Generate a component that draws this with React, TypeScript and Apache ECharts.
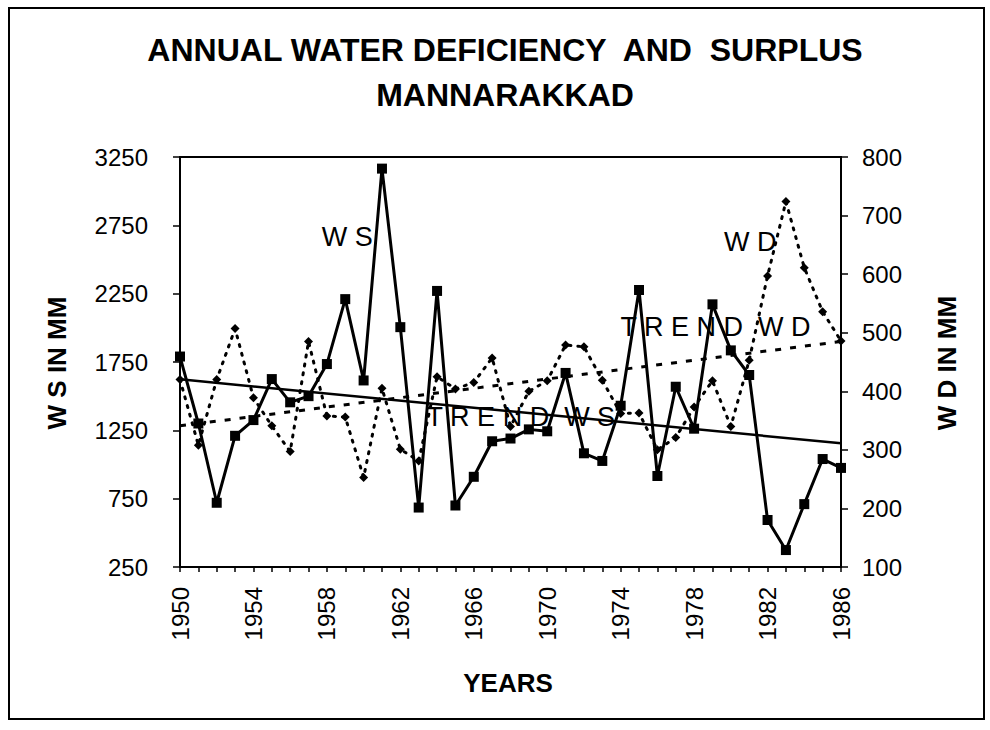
import React, { useEffect, useRef } from "react";
import * as echarts from "echarts";

const years = [
  "1950", "1951", "1952", "1953", "1954", "1955", "1956", "1957", "1958", "1959",
  "1960", "1961", "1962", "1963", "1964", "1965", "1966", "1967", "1968", "1969",
  "1970", "1971", "1972", "1973", "1974", "1975", "1976", "1977", "1978", "1979",
  "1980", "1981", "1982", "1983", "1984", "1985", "1986",
];

// Water surplus (mm), left axis
const wsValues = [
  1790, 1300, 720, 1210, 1325, 1625, 1455, 1500, 1735, 2210,
  1615, 3165, 2005, 685, 2270, 700, 910, 1170, 1190, 1257,
  1243, 1670, 1082, 1026, 1430, 2277, 916, 1569, 1262, 2172,
  1835, 1655, 594, 374, 710, 1040, 975,
];

// Water deficiency (mm), right axis
const wdValues = [
  420, 308, 420, 507, 389, 341, 297, 485, 358, 356,
  253, 405, 301, 281, 425, 404, 415, 457, 340, 400,
  418, 479, 476, 419, 362, 363, 300, 321, 373, 418,
  340, 453, 597, 724, 611, 536, 486,
];

// Trend line end values (1950, 1986)
const trendWSEnds = [1623, 1155];
const trendWDEnds = [341, 485];

const leftTicks = { min: 250, max: 3250, interval: 500 };
const rightTicks = { min: 100, max: 800, interval: 100 };

const FONT = '"Liberation Sans", Arial, Helvetica, sans-serif';

function endsToSeries(ends: number[]) {
  const last = years.length - 1;
  return years.map((_, i) => (i === 0 ? ends[0] : i === last ? ends[1] : null));
}

export default function App() {
  const ref = useRef<HTMLDivElement>(null);

  useEffect(() => {
    if (!ref.current) return;
    const chart = echarts.init(ref.current, null, { renderer: "svg" });

    const annotLabel = {
      show: true,
      position: "inside",
      formatter: "{b}",
      fontSize: 27,
      color: "#000",
      fontFamily: FONT,
    };

    const plain = (v: number) => String(v);

    const option: any = {
      animation: false,
      backgroundColor: "#ffffff",
      grid: {
        left: 180,
        top: 157,
        width: 661,
        height: 410,
        show: true,
        borderColor: "#000",
        borderWidth: 2,
        backgroundColor: "transparent",
      },
      xAxis: {
        type: "category",
        data: years,
        boundaryGap: false,
        axisLine: { show: true, lineStyle: { color: "#000", width: 2 } },
        axisTick: { show: true, interval: 0, length: 5, lineStyle: { color: "#000", width: 1.5 } },
        axisLabel: {
          interval: 3,
          rotate: 90,
          fontSize: 24,
          color: "#000",
          fontFamily: FONT,
          margin: 20,
        },
        splitLine: { show: false },
      },
      yAxis: [
        {
          type: "value",
          position: "left",
          min: leftTicks.min,
          max: leftTicks.max,
          interval: leftTicks.interval,
          axisLine: { show: true, lineStyle: { color: "#000", width: 2 } },
          axisTick: { show: true, length: 7, lineStyle: { color: "#000", width: 1.5 } },
          axisLabel: { fontSize: 24, color: "#000", fontFamily: FONT, margin: 32, formatter: plain },
          splitLine: { show: false },
        },
        {
          type: "value",
          position: "right",
          min: rightTicks.min,
          max: rightTicks.max,
          interval: rightTicks.interval,
          axisLine: { show: true, lineStyle: { color: "#000", width: 2 } },
          axisTick: { show: true, length: 7, lineStyle: { color: "#000", width: 1.5 } },
          axisLabel: { fontSize: 24, color: "#000", fontFamily: FONT, margin: 21, formatter: plain },
          splitLine: { show: false },
        },
      ],
      series: [
        {
          name: "W S",
          type: "line",
          yAxisIndex: 0,
          data: wsValues,
          symbol: "rect",
          symbolSize: 10,
          itemStyle: { color: "#000" },
          lineStyle: { color: "#000", width: 3 },
          z: 5,
          markPoint: {
            symbol: "rect",
            symbolSize: 1,
            itemStyle: { color: "rgba(0,0,0,0)" },
            label: annotLabel,
            data: [
              { name: "W S", coord: ["1959", 2665], label: { offset: [2, 0] } },
              { name: "T R E N D  W S", coord: ["1969", 1348], label: { offset: [-8, 0] } },
            ],
          },
        },
        {
          name: "W D",
          type: "line",
          yAxisIndex: 1,
          data: wdValues,
          symbol: "diamond",
          symbolSize: 9,
          itemStyle: { color: "#000" },
          lineStyle: { color: "#000", width: 3, type: [2, 7], cap: "round" },
          z: 4,
          markPoint: {
            symbol: "rect",
            symbolSize: 1,
            itemStyle: { color: "rgba(0,0,0,0)" },
            label: annotLabel,
            data: [
              { name: "W D", coord: ["1981", 655], label: { offset: [1, 0] } },
              { name: "T R E N D  W D", coord: ["1979", 510], label: { offset: [3, 0] } },
            ],
          },
        },
        {
          name: "TREND WS",
          type: "line",
          yAxisIndex: 0,
          data: endsToSeries(trendWSEnds),
          connectNulls: true,
          symbol: "none",
          lineStyle: { color: "#000", width: 2.5 },
          z: 3,
        },
        {
          name: "TREND WD",
          type: "line",
          yAxisIndex: 1,
          data: endsToSeries(trendWDEnds),
          connectNulls: true,
          symbol: "none",
          lineStyle: { color: "#000", width: 3, type: [6, 9] },
          z: 3,
        },
      ],
      graphic: [
        {
          type: "rect",
          shape: { x: 9, y: 8, width: 975, height: 711 },
          style: { fill: "none", stroke: "#000", lineWidth: 2 },
          silent: true,
        },
        {
          type: "text",
          x: 505,
          y: 50,
          style: {
            text: "ANNUAL WATER DEFICIENCY  AND  SURPLUS",
            textAlign: "center",
            textVerticalAlign: "middle",
            font: `bold 32px ${FONT}`,
            fill: "#000",
          },
        },
        {
          type: "text",
          x: 505,
          y: 95,
          style: {
            text: "MANNARAKKAD",
            textAlign: "center",
            textVerticalAlign: "middle",
            font: `bold 32px ${FONT}`,
            fill: "#000",
          },
        },
        {
          type: "text",
          x: 57,
          y: 363,
          rotation: Math.PI / 2,
          style: {
            text: "W S IN MM",
            textAlign: "center",
            textVerticalAlign: "middle",
            font: `bold 26px ${FONT}`,
            fill: "#000",
          },
        },
        {
          type: "text",
          x: 947,
          y: 363,
          rotation: Math.PI / 2,
          style: {
            text: "W D IN MM",
            textAlign: "center",
            textVerticalAlign: "middle",
            font: `bold 26px ${FONT}`,
            fill: "#000",
          },
        },
        {
          type: "text",
          x: 508,
          y: 683,
          style: {
            text: "YEARS",
            textAlign: "center",
            textVerticalAlign: "middle",
            font: `bold 26px ${FONT}`,
            fill: "#000",
          },
        },
      ],
    };

    chart.setOption(option);
    return () => {
      chart.dispose();
    };
  }, []);

  return (
    <div
      ref={ref}
      style={{ position: "absolute", left: 0, top: 0, width: 990, height: 730, background: "#fff" }}
    />
  );
}
